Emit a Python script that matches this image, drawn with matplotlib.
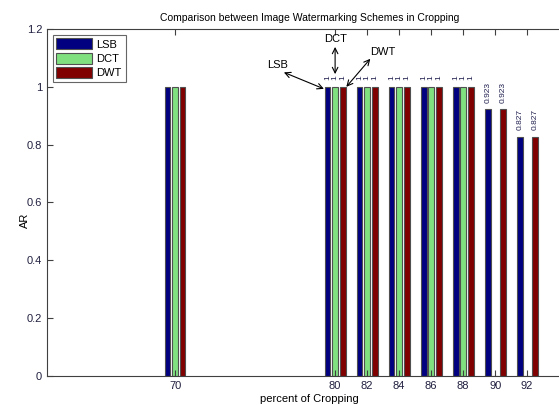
import numpy as np
import matplotlib.pyplot as plt

plt.rcParams['font.family'] = ['Liberation Sans', 'DejaVu Sans']

crop = [70, 80, 82, 84, 86, 88, 90, 92]
lsb = [1, 1, 1, 1, 1, 1, 0.923, 0.827]
dct = [1, 1, 1, 1, 1, 1, 0, 0]
dwt = [1, 1, 1, 1, 1, 1, 0.923, 0.827]
names = ["LSB", "DCT", "DWT"]
colors = ["#000080", "#80e080", "#800000"]

fig = plt.figure(figsize=(5.59, 4.05), dpi=100)
ax = fig.add_axes([47/559, 29/405, 525/559, 347/405])

x = np.array(crop, dtype=float)
w = 0.36
off = 0.47
series = [lsb, dct, dwt]
for i, (vals, name, c) in enumerate(zip(series, names, colors)):
    xs = x + (i - 1) * off
    ax.bar(xs, vals, width=w, color=c, edgecolor="#505050", linewidth=0.8, label=name)
    # value labels, skipped for the 70% group and the empty bars
    for xi, v, grp in zip(xs, vals, crop):
        if grp == 70 or v == 0:
            continue
        ax.text(xi, v + 0.022, "%g" % v, rotation=90, ha="center", va="bottom",
                fontsize=6, color="#202050")

ax.set_xlim(62, 94.8)
ax.set_ylim(0, 1.2)
ax.set_xticks(crop)
ax.set_yticks([0, 0.2, 0.4, 0.6, 0.8, 1, 1.2])
ax.set_yticklabels(["0", "0.2", "0.4", "0.6", "0.8", "1", "1.2"])
ax.tick_params(direction="in", top=True, right=True, labelsize=8, length=4, width=0.8,
               color="#404040", labelcolor="#202040")
for s in ax.spines.values():
    s.set_color("#404040")
    s.set_linewidth(0.8)

ax.set_title("Comparison between Image Watermarking Schemes in Cropping", fontsize=7.5, pad=6)
ax.set_xlabel("percent of Cropping", fontsize=8, labelpad=2)
ax.set_ylabel("AR", fontsize=8)
ax.yaxis.set_label_coords(-0.032, 0.45)

arrow = dict(arrowstyle="<->", color="black", lw=0.8, shrinkA=0, shrinkB=0)
ax.annotate("", xy=(80, 1.044), xytext=(80, 1.138), arrowprops=arrow)
ax.text(80, 1.148, "DCT", ha="center", va="bottom", fontsize=8)
ax.annotate("", xy=(79.3, 0.993), xytext=(76.8, 1.05), arrowprops=arrow)
ax.text(76.4, 1.058, "LSB", ha="center", va="bottom", fontsize=8)
ax.annotate("", xy=(80.7, 1.0), xytext=(82.2, 1.097), arrowprops=arrow)
ax.text(83.0, 1.103, "DWT", ha="center", va="bottom", fontsize=8)

leg = ax.legend(loc="upper left", fontsize=8, fancybox=False, edgecolor="#404040",
                borderaxespad=0.5, handlelength=3.2, handleheight=1.1, labelspacing=0.3,
                borderpad=0.35, handletextpad=0.4)
leg.get_frame().set_linewidth(0.8)

fig.savefig("out.png", dpi=100)
